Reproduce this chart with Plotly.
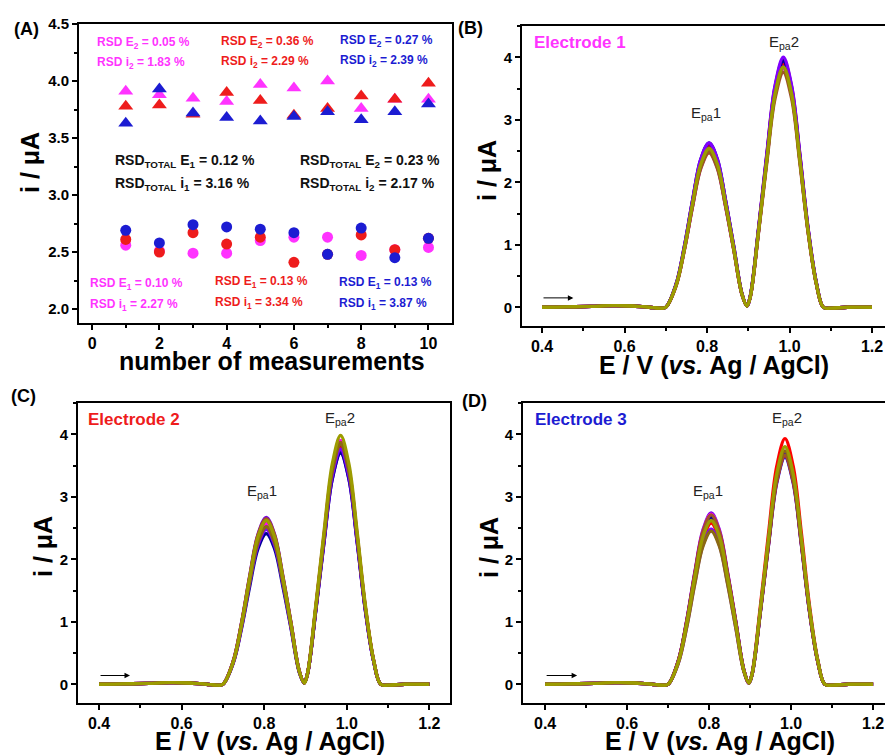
import plotly.graph_objects as go

FONT = "Liberation Sans, Arial, sans-serif"
W, H = 885, 755

MAGENTA = "#ff33ff"
RED = "#ee1c1c"
BLUE = "#1c1cd2"

# ---- Panel A: peak currents over repeated measurements ----
measurement = [1, 2, 3, 4, 5, 6, 7, 8, 9, 10]
i1_electrode1 = [2.56, 2.51, 2.49, 2.49, 2.60, 2.63, 2.63, 2.47, 2.52, 2.54]
i1_electrode2 = [2.61, 2.50, 2.67, 2.57, 2.63, 2.41, 2.48, 2.65, 2.52, 2.62]
i1_electrode3 = [2.69, 2.58, 2.74, 2.72, 2.70, 2.67, 2.48, 2.71, 2.45, 2.62]
i2_electrode1 = [3.91, 3.88, 3.85, 3.82, 3.97, 3.94, 4.00, 3.76, 3.84, 3.84]
i2_electrode2 = [3.78, 3.79, 3.71, 3.90, 3.83, 3.70, 3.76, 3.87, 3.84, 3.98]
i2_electrode3 = [3.63, 3.93, 3.72, 3.68, 3.65, 3.69, 3.73, 3.66, 3.73, 3.80]

# ---- Panels B-D: DPV curves (potential grid shared by all scans) ----
E_GRID = [0.40, 0.46, 0.52, 0.57, 0.62, 0.66, 0.685, 0.70,
          0.725, 0.745, 0.765, 0.785, 0.805, 0.825, 0.845, 0.865, 0.885,
          0.897,
          0.905, 0.925, 0.945, 0.965, 0.985, 1.005, 1.025, 1.045, 1.065,
          1.082, 1.10, 1.14, 1.20]
BASE_START = [0.0, 0.005, 0.015, 0.025, 0.02, 0.0, -0.015, 0.0]
VALLEY = [0.02]
BASE_END = [0.0, -0.015, 0.0, 0.0]

PEAK1_E1 = [
    [0.36, 0.94, 1.67, 2.30, 2.56, 2.30, 1.67, 0.94, 0.20],
    [0.35, 0.92, 1.64, 2.26, 2.51, 2.26, 1.64, 0.92, 0.20],
    [0.35, 0.92, 1.62, 2.24, 2.49, 2.24, 1.62, 0.92, 0.20],
    [0.35, 0.92, 1.62, 2.24, 2.49, 2.24, 1.62, 0.92, 0.20],
    [0.36, 0.96, 1.70, 2.34, 2.60, 2.34, 1.70, 0.96, 0.21],
    [0.37, 0.97, 1.71, 2.37, 2.63, 2.37, 1.71, 0.97, 0.21],
    [0.37, 0.97, 1.71, 2.37, 2.63, 2.37, 1.71, 0.97, 0.21],
    [0.34, 0.91, 1.61, 2.22, 2.47, 2.22, 1.61, 0.91, 0.20],
    [0.35, 0.93, 1.64, 2.27, 2.52, 2.27, 1.64, 0.93, 0.20],
    [0.35, 0.93, 1.66, 2.29, 2.54, 2.29, 1.66, 0.93, 0.20],
]
PEAK2_E1 = [
    [0.18, 1.24, 2.40, 3.47, 3.91, 3.47, 2.40, 1.24, 0.39],
    [0.17, 1.23, 2.39, 3.45, 3.88, 3.45, 2.39, 1.23, 0.38],
    [0.17, 1.22, 2.37, 3.42, 3.85, 3.42, 2.37, 1.22, 0.38],
    [0.17, 1.21, 2.35, 3.39, 3.82, 3.39, 2.35, 1.21, 0.38],
    [0.18, 1.26, 2.44, 3.53, 3.97, 3.53, 2.44, 1.26, 0.39],
    [0.18, 1.25, 2.42, 3.50, 3.94, 3.50, 2.42, 1.25, 0.39],
    [0.18, 1.27, 2.46, 3.55, 4.00, 3.55, 2.46, 1.27, 0.40],
    [0.17, 1.20, 2.31, 3.34, 3.76, 3.34, 2.31, 1.20, 0.37],
    [0.17, 1.22, 2.36, 3.41, 3.84, 3.41, 2.36, 1.22, 0.38],
    [0.17, 1.22, 2.36, 3.41, 3.84, 3.41, 2.36, 1.22, 0.38],
]
PEAK1_E2 = [
    [0.36, 0.96, 1.70, 2.35, 2.61, 2.35, 1.70, 0.96, 0.21],
    [0.35, 0.92, 1.63, 2.25, 2.50, 2.25, 1.63, 0.92, 0.20],
    [0.37, 0.98, 1.74, 2.40, 2.67, 2.40, 1.74, 0.98, 0.21],
    [0.36, 0.95, 1.68, 2.31, 2.57, 2.31, 1.68, 0.95, 0.21],
    [0.37, 0.97, 1.71, 2.37, 2.63, 2.37, 1.71, 0.97, 0.21],
    [0.34, 0.89, 1.57, 2.17, 2.41, 2.17, 1.57, 0.89, 0.19],
    [0.34, 0.91, 1.62, 2.23, 2.48, 2.23, 1.62, 0.91, 0.20],
    [0.37, 0.98, 1.73, 2.39, 2.65, 2.39, 1.73, 0.98, 0.21],
    [0.35, 0.93, 1.64, 2.27, 2.52, 2.27, 1.64, 0.93, 0.20],
    [0.36, 0.96, 1.71, 2.36, 2.62, 2.36, 1.71, 0.96, 0.21],
]
PEAK2_E2 = [
    [0.17, 1.20, 2.32, 3.36, 3.78, 3.36, 2.32, 1.20, 0.37],
    [0.17, 1.21, 2.33, 3.37, 3.79, 3.37, 2.33, 1.21, 0.38],
    [0.17, 1.18, 2.28, 3.29, 3.71, 3.29, 2.28, 1.18, 0.37],
    [0.18, 1.24, 2.40, 3.46, 3.90, 3.46, 2.40, 1.24, 0.39],
    [0.17, 1.22, 2.36, 3.40, 3.83, 3.40, 2.36, 1.22, 0.38],
    [0.17, 1.18, 2.28, 3.29, 3.70, 3.29, 2.28, 1.18, 0.37],
    [0.17, 1.20, 2.31, 3.34, 3.76, 3.34, 2.31, 1.20, 0.37],
    [0.17, 1.23, 2.38, 3.44, 3.87, 3.44, 2.38, 1.23, 0.38],
    [0.17, 1.22, 2.36, 3.41, 3.84, 3.41, 2.36, 1.22, 0.38],
    [0.18, 1.27, 2.45, 3.53, 3.98, 3.53, 2.45, 1.27, 0.39],
]
PEAK1_E3 = [
    [0.37, 0.99, 1.75, 2.42, 2.69, 2.42, 1.75, 0.99, 0.22],
    [0.36, 0.95, 1.68, 2.32, 2.58, 2.32, 1.68, 0.95, 0.21],
    [0.38, 1.01, 1.79, 2.47, 2.74, 2.47, 1.79, 1.01, 0.22],
    [0.38, 1.00, 1.77, 2.45, 2.72, 2.45, 1.77, 1.00, 0.22],
    [0.38, 0.99, 1.76, 2.43, 2.70, 2.43, 1.76, 0.99, 0.22],
    [0.37, 0.98, 1.74, 2.40, 2.67, 2.40, 1.74, 0.98, 0.21],
    [0.34, 0.91, 1.62, 2.23, 2.48, 2.23, 1.62, 0.91, 0.20],
    [0.38, 1.00, 1.77, 2.44, 2.71, 2.44, 1.77, 1.00, 0.22],
    [0.34, 0.90, 1.60, 2.21, 2.45, 2.21, 1.60, 0.90, 0.20],
    [0.36, 0.96, 1.71, 2.36, 2.62, 2.36, 1.71, 0.96, 0.21],
]
PEAK2_E3 = [
    [0.16, 1.15, 2.23, 3.22, 3.63, 3.22, 2.23, 1.15, 0.36],
    [0.18, 1.25, 2.42, 3.49, 3.93, 3.49, 2.42, 1.25, 0.39],
    [0.17, 1.18, 2.29, 3.30, 3.72, 3.30, 2.29, 1.18, 0.37],
    [0.17, 1.17, 2.26, 3.27, 3.68, 3.27, 2.26, 1.17, 0.36],
    [0.16, 1.16, 2.24, 3.24, 3.65, 3.24, 2.24, 1.16, 0.36],
    [0.17, 1.17, 2.27, 3.28, 3.69, 3.28, 2.27, 1.17, 0.37],
    [0.17, 1.19, 2.29, 3.31, 3.73, 3.31, 2.29, 1.19, 0.37],
    [0.16, 1.16, 2.25, 3.25, 3.66, 3.25, 2.25, 1.16, 0.36],
    [0.17, 1.19, 2.29, 3.31, 3.73, 3.31, 2.29, 1.19, 0.37],
    [0.17, 1.21, 2.34, 3.37, 3.80, 3.37, 2.34, 1.21, 0.38],
]

CURVE_COLORS = ["#1f1fff", "#ff0000", "#7a00e6", "#ff00ff", "#b00040",
                "#000099", "#8000ff", "#a0522d", "#8b6914", "#9c9c00"]


def fx(px):
    return px / W


def fy(py):
    return 1 - py / H


fig = go.Figure()

# Panel A markers (magenta, red, blue drawn in that order)
for vals, col in [(i1_electrode1, MAGENTA), (i1_electrode2, RED), (i1_electrode3, BLUE)]:
    fig.add_trace(go.Scatter(x=measurement, y=vals, mode="markers", xaxis="x", yaxis="y",
                             marker=dict(symbol="circle", size=11, color=col)))
for vals, col in [(i2_electrode1, MAGENTA), (i2_electrode2, RED), (i2_electrode3, BLUE)]:
    fig.add_trace(go.Scatter(x=measurement, y=vals, mode="markers", xaxis="x", yaxis="y",
                             marker=dict(symbol="triangle-up", size=13, color=col)))

# DPV curves for the three electrodes
for (p1, p2), ax in [((PEAK1_E1, PEAK2_E1), "2"), ((PEAK1_E2, PEAK2_E2), "3"),
                     ((PEAK1_E3, PEAK2_E3), "4")]:
    for k in range(len(p1)):
        current = BASE_START + p1[k] + VALLEY + p2[k] + BASE_END
        fig.add_trace(go.Scatter(x=E_GRID, y=current, mode="lines",
                                 xaxis="x" + ax, yaxis="y" + ax,
                                 line=dict(color=CURVE_COLORS[k], width=3.3, shape="spline")))


def axis(domain, rng, dtick, tick0, minor_dtick, fmt, mirror, anchor, font_size=15):
    return dict(domain=domain, range=rng, dtick=dtick, tick0=tick0, tickformat=fmt,
                tickprefix="<b>", ticksuffix="</b>", automargin=False,
                showline=True, linecolor="black", linewidth=2, mirror=mirror,
                ticks="outside", ticklen=5, tickwidth=1.5, tickcolor="black",
                minor=dict(ticks="outside", ticklen=3, tickwidth=1.5, tickcolor="black",
                           dtick=minor_dtick, tick0=tick0),
                showgrid=False, zeroline=False, anchor=anchor,
                tickfont=dict(family=FONT, size=font_size, color="black", weight="bold"))


# Plot areas (pixels): left, right, top, bottom
A_BOX = (79, 452, 24, 323)
B_BOX = (522, 885, 26, 326)
C_BOX = (78, 450, 403, 703)
D_BOX = (523, 885, 403, 703)


def dom_x(b):
    return [fx(b[0]), fx(b[1])]


def dom_y(b):
    return [fy(b[3]), fy(b[2])]


fig.update_layout(
    xaxis=axis(dom_x(A_BOX), [-0.39, 10.7], 2, 0, 1, "d", True, "y", 16),
    yaxis=axis(dom_y(A_BOX), [1.877, 4.501], 0.5, 0, 0.25, ".1f", True, "x", 15),
    xaxis2=axis(dom_x(B_BOX), [0.3515, 1.2315], 0.2, 0.4, 0.1, ".1f", True, "y2", 16),
    yaxis2=axis(dom_y(B_BOX), [-0.3, 4.5], 1, 0, 0.5, "d", False, "x2", 15),
    xaxis3=axis(dom_x(C_BOX), [0.349, 1.25], 0.2, 0.4, 0.1, ".1f", True, "y3", 16),
    yaxis3=axis(dom_y(C_BOX), [-0.3, 4.5], 1, 0, 0.5, "d", True, "x3", 15),
    xaxis4=axis(dom_x(D_BOX), [0.346, 1.229], 0.2, 0.4, 0.1, ".1f", True, "y4", 16),
    yaxis4=axis(dom_y(D_BOX), [-0.3, 4.5], 1, 0, 0.5, "d", False, "x4", 15),
)

ann = []


def text(px, py, s, size, color="black", xanchor="center", angle=0):
    ann.append(dict(x=fx(px), y=fy(py), xref="paper", yref="paper", text=s,
                    showarrow=False, xanchor=xanchor, yanchor="middle", textangle=angle,
                    font=dict(family=FONT, size=size, color=color)))


# Panel letters
for lab, px, py in [("(A)", 26, 29), ("(B)", 470, 28), ("(C)", 23, 396), ("(D)", 474, 401)]:
    text(px, py, "<b>%s</b>" % lab, 18)

# Axis titles
x_title = "<b>E / V (<i>vs.</i> Ag / AgCl)</b>"
text(272, 361, "<b>number of measurements</b>", 25)
text(714, 365, x_title, 25)
text(270, 741, x_title, 25)
text(720, 741, x_title, 25)
for px, py in [(30, 163), (487, 170), (43, 547), (489, 547)]:
    text(px, py, "<b>i / \u03bcA</b>", 25, angle=-90)

# Panel A statistics
stats = [
    (95, 43, "RSD E<sub>2</sub> = 0.05 %", MAGENTA), (95, 63, "RSD i<sub>2</sub> = 1.83 %", MAGENTA),
    (219, 42, "RSD E<sub>2</sub> = 0.36 %", RED), (219, 62, "RSD i<sub>2</sub> = 2.29 %", RED),
    (338, 41, "RSD E<sub>2</sub> = 0.27 %", BLUE), (338, 61, "RSD i<sub>2</sub> = 2.39 %", BLUE),
    (88, 284, "RSD E<sub>1</sub> = 0.10 %", MAGENTA), (88, 305, "RSD i<sub>1</sub> = 2.27 %", MAGENTA),
    (213, 282, "RSD E<sub>1</sub> = 0.13 %", RED), (213, 303, "RSD i<sub>1</sub> = 3.34 %", RED),
    (337, 283, "RSD E<sub>1</sub> = 0.13 %", BLUE), (337, 304, "RSD i<sub>1</sub> = 3.87 %", BLUE),
]
for px, py, s, col in stats:
    text(px, py, "<b>%s</b>" % s, 12, col, xanchor="left")

totals = [
    (113, 161, "RSD<sub>TOTAL</sub> E<sub>1</sub> = 0.12 %"),
    (113, 184, "RSD<sub>TOTAL</sub> i<sub>1</sub> = 3.16 %"),
    (298, 161, "RSD<sub>TOTAL</sub> E<sub>2</sub> = 0.23 %"),
    (298, 184, "RSD<sub>TOTAL</sub> i<sub>2</sub> = 2.17 %"),
]
for px, py, s in totals:
    text(px, py, "<b>%s</b>" % s, 14, "#111111", xanchor="left")

# Electrode labels
text(532, 42, "<b>Electrode 1</b>", 17, MAGENTA, xanchor="left")
text(86, 419, "<b>Electrode 2</b>", 17, RED, xanchor="left")
text(533, 419, "<b>Electrode 3</b>", 17, BLUE, xanchor="left")

# Peak labels and scan-direction arrows (data coordinates)
peak_labels = {"2": [(0.798, 3.10), (0.987, 4.24)],
               "3": [(0.795, 3.09), (0.983, 4.26)],
               "4": [(0.797, 3.09), (0.990, 4.26)]}
for ax, pts in peak_labels.items():
    for n, (xv, yv) in enumerate(pts, start=1):
        ann.append(dict(x=xv, y=yv, xref="x" + ax, yref="y" + ax,
                        text="E<sub>pa</sub>%d" % n, showarrow=False,
                        font=dict(family=FONT, size=15, color="#222222")))
arrows = {"2": (0.400, 0.476, 0.15), "3": (0.400, 0.475, 0.14), "4": (0.400, 0.478, 0.14)}
for ax, (x0, x1, yv) in arrows.items():
    ann.append(dict(x=x1, y=yv, ax=x0, ay=yv, xref="x" + ax, yref="y" + ax,
                    axref="x" + ax, ayref="y" + ax, text="", showarrow=True,
                    arrowhead=2, arrowsize=1.1, arrowwidth=1, arrowcolor="black", standoff=0))

fig.update_layout(
    annotations=ann,
    width=W, height=H,
    margin=dict(l=0, r=0, t=0, b=0, autoexpand=False),
    paper_bgcolor="white", plot_bgcolor="white",
    showlegend=False,
    font=dict(family=FONT, color="black"),
)

fig.write_html("out.html")
